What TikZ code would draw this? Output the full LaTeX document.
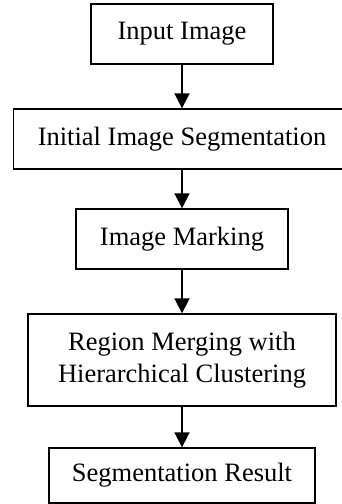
\documentclass[tikz,border=0pt]{standalone}
\usepackage{fontspec}
\setmainfont{Liberation Serif}
\usetikzlibrary{arrows.meta}
\begin{document}
\begin{tikzpicture}[x=1pt,y=-1pt,
  box/.style={draw,line width=1.3pt,inner sep=0pt,align=center,
    font=\fontsize{26.5}{32}\selectfont},
  arr/.style={line width=1.7pt,-{Triangle[length=15pt,width=15pt]}}]
\useasboundingbox (0,0) rectangle (342,504);
\clip (0,0) rectangle (342,504);
\node[box,minimum width=182pt,minimum height=60pt] (b1) at (182,34) {Input Image};
\node[box,minimum width=337pt,minimum height=60pt] (b2) at (182,139) {Initial Image Segmentation};
\node[box,minimum width=212pt,minimum height=60pt] (b3) at (182,239) {Image Marking};
\node[box,minimum width=308pt,minimum height=92pt] (b4) at (182,360) {Region Merging with\\Hierarchical Clustering};
\node[box,minimum width=266pt,minimum height=55pt] (b5) at (182,475.5) {Segmentation Result};
\draw[arr] (b1) -- (b2);
\draw[arr] (b2) -- (b3);
\draw[arr] (b3) -- (b4);
\draw[arr] (b4) -- (b5);
\end{tikzpicture}
\end{document}
